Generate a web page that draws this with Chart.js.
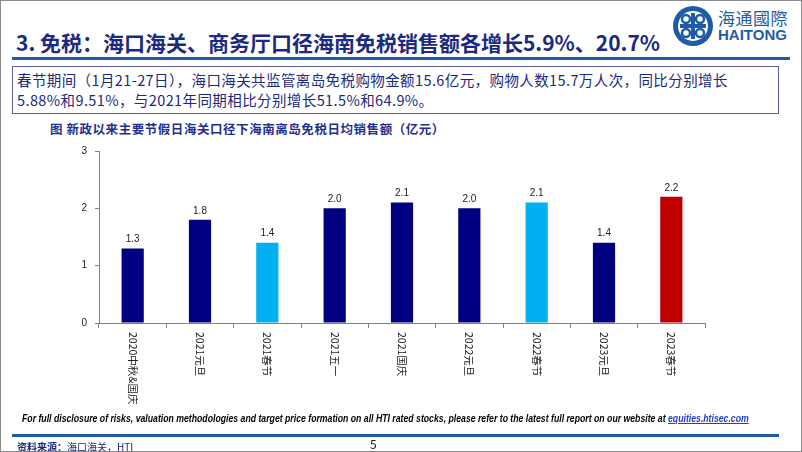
<!DOCTYPE html>
<html>
<head>
<meta charset="utf-8">
<script src="https://cdn.jsdelivr.net/npm/chart.js@4"></script>
<style>
  body { margin: 0; background: #fff; }
  #page {
    position: relative; width: 800px; height: 450px;
    border: 1px solid #8a8a8a; background: #fff; overflow: hidden;
    font-family: "Noto Sans CJK SC", "Noto Sans", sans-serif;
  }
  .abs { position: absolute; white-space: nowrap; }
  #title { left: 15px; top: 26px; font-size: 21px; font-weight: bold; color: #1b2a80; letter-spacing: 0px; }
  #rule-top { left: 11px; top: 56px; width: 778px; height: 3px; background: #1f5ba6; }
  #box { left: 11px; top: 65px; width: 765px; height: 46px; border: 1px solid #5b5ea6; }
  .boxline { left: 16px; font-size: 14.5px; color: #1b2a80; letter-spacing: 0.4px; }
  #chart-title { left: 49px; top: 118px; font-size: 12.5px; font-weight: bold; color: #1f2f8f; letter-spacing: 0.55px; }
  #disclaimer { left: 21px; top: 411px; font-family: "Liberation Sans", sans-serif; font-size: 11px; font-style: italic; font-weight: bold; color: #000; transform-origin: left center; }
  #disclaimer a { color: #1f3fd0; text-decoration: underline; }
  #rule-bot { left: 11px; top: 433px; width: 767px; height: 3px; background: #1f5ba6; }
  #source { left: 16px; top: 438px; font-size: 10px; color: #1b2a80; }
  #pageno { left: 369px; top: 434px; font-size: 12px; color: #222; }
  #logo-cn { left: 717px; top: 4px; font-size: 17px; color: #1f5ba6; letter-spacing: 0.5px; }
  #logo-en { left: 717px; top: 25px; font-family: "Liberation Sans", sans-serif; font-size: 15px; font-weight: bold; color: #1f5ba6; }
  #chart-wrap { position: absolute; left: -1px; top: 136px; }
</style>
</head>
<body>
<div id="page">
  <div class="abs" id="title">3. 免税：海口海关、商务厅口径海南免税销售额各增长5.9%、20.7%</div>
  <svg class="abs" style="left:671px;top:4px" width="42" height="42" viewBox="0 0 42 42">
    <circle cx="21" cy="21" r="20" fill="#1f5ba6"/>
    <circle cx="21" cy="21" r="15" fill="#fff"/>
    <path d="M21 8 V34 M8 21 H34" stroke="#1f5ba6" stroke-width="4"/>
    <circle cx="14" cy="14" r="4" fill="none" stroke="#1f5ba6" stroke-width="2.5"/>
    <circle cx="28" cy="14" r="4" fill="none" stroke="#1f5ba6" stroke-width="2.5"/>
    <circle cx="14" cy="28" r="4" fill="none" stroke="#1f5ba6" stroke-width="2.5"/>
    <circle cx="28" cy="28" r="4" fill="none" stroke="#1f5ba6" stroke-width="2.5"/>
  </svg>
  <div class="abs" id="logo-cn">海通國際</div>
  <div class="abs" id="logo-en">HAITONG</div>
  <div class="abs" id="rule-top"></div>
  <div class="abs" id="box"></div>
  <div class="abs boxline" style="top:68px">春节期间（1月21-27日），海口海关共监管离岛免税购物金额15.6亿元，购物人数15.7万人次，同比分别增长</div>
  <div class="abs boxline" style="top:88px">5.88%和9.51%，与2021年同期相比分别增长51.5%和64.9%。</div>
  <div class="abs" id="chart-title">图 新政以来主要节假日海关口径下海南离岛免税日均销售额（亿元）</div>
  <div id="chart-wrap"><canvas id="chart" width="802" height="280"></canvas></div>
  <div class="abs" id="disclaimer">For full disclosure of risks, valuation methodologies and target price formation on all HTI rated stocks, please refer to the latest full report on our website at <a>equities.htisec.com</a></div>
  <div class="abs" id="rule-bot"></div>
  <div class="abs" id="source"><b>资料来源：</b>海口海关，HTI</div>
  <div class="abs" id="pageno">5</div>
</div>
<script>
// holidays shown on the x axis
const holidays = ["2020中秋&国庆", "2021元旦", "2021春节", "2021五一", "2021国庆",
                  "2022元旦", "2022春节", "2023元旦", "2023春节"];
// daily average duty-free sales, 100 million yuan
const dailySales = [1.3, 1.8, 1.4, 2.0, 2.1, 2.0, 2.1, 1.4, 2.2];
const barColors = ["#000080", "#000080", "#00b0f0", "#000080", "#000080",
                   "#000080", "#00b0f0", "#000080", "#c00000"];
const yTicks = [0, 1, 2, 3];

// squeeze the disclaimer onto one line like the slide
const disc = document.getElementById("disclaimer");
disc.style.transform = "scaleX(" + (727 / disc.offsetWidth) + ")";

// value labels over each bar
const barLabels = {
  id: "barLabels",
  afterDatasetsDraw(chart) {
    const ctx = chart.ctx;
    ctx.save();
    ctx.font = "10px 'Liberation Sans', sans-serif";
    ctx.fillStyle = "#222";
    ctx.textAlign = "center";
    ctx.textBaseline = "bottom";
    chart.getDatasetMeta(0).data.forEach((bar, i) => {
      ctx.fillText(dailySales[i].toFixed(1), bar.x, bar.y - 4);
    });
    ctx.restore();
  }
};

// x labels turned clockwise, read top to bottom
const verticalLabels = {
  id: "verticalLabels",
  afterDraw(chart) {
    const ctx = chart.ctx;
    const xs = chart.scales.x;
    ctx.save();
    ctx.font = "10.5px 'Noto Sans CJK SC', sans-serif";
    ctx.fillStyle = "#222";
    ctx.textAlign = "left";
    ctx.textBaseline = "middle";
    holidays.forEach((name, i) => {
      ctx.save();
      ctx.translate(xs.getPixelForTick(i), xs.top + 9);
      ctx.rotate(Math.PI / 2);
      ctx.fillText(name, 0, 0);
      ctx.restore();
    });
    ctx.restore();
  }
};

new Chart(document.getElementById("chart").getContext("2d"), {
  type: "bar",
  data: {
    labels: holidays,
    datasets: [{
      data: dailySales,
      backgroundColor: barColors,
      categoryPercentage: 1,
      barPercentage: 0.33
    }]
  },
  options: {
    responsive: false,
    animation: false,
    devicePixelRatio: 1,
    layout: { padding: { left: 0, right: 97, top: 7, bottom: 0 } },
    plugins: { legend: { display: false }, tooltip: { enabled: false } },
    scales: {
      x: {
        afterFit: s => { s.height = 94; },
        grid: { offset: true, drawOnChartArea: false, tickLength: 5, color: "#808080" },
        border: { color: "#808080" },
        ticks: { display: false }
      },
      y: {
        min: 0, max: 3,
        afterFit: s => { s.width = 99; },
        afterBuildTicks: s => { s.ticks = yTicks.map(v => ({ value: v })); },
        grid: { drawOnChartArea: false, tickLength: 4, color: "#808080" },
        border: { color: "#808080" },
        ticks: { padding: 8, color: "#222", font: { size: 10, family: "Liberation Sans" } }
      }
    }
  },
  plugins: [barLabels, verticalLabels]
});
</script>
</body>
</html>
